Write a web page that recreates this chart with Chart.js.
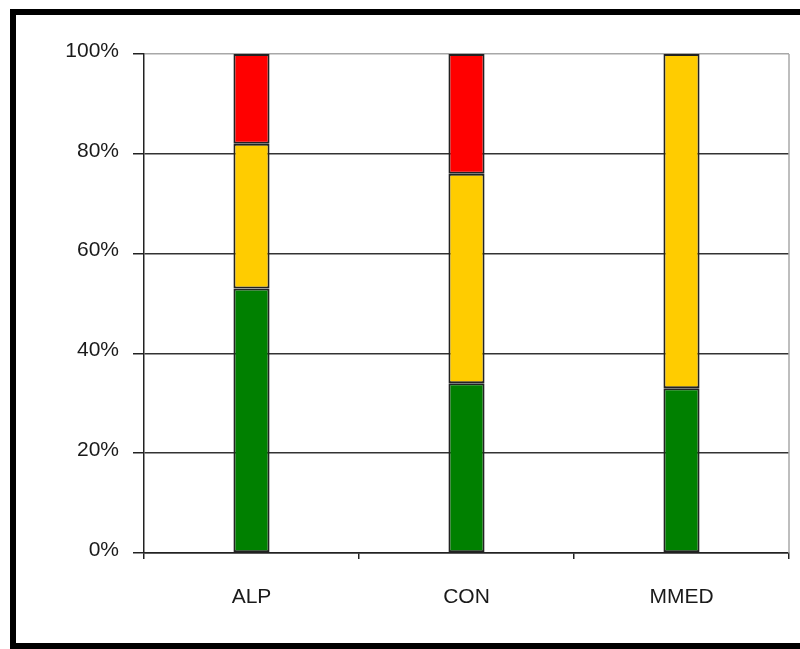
<!DOCTYPE html>
<html>
<head>
<meta charset="utf-8">
<title>Stacked 100% bars</title>
<script src="https://cdn.jsdelivr.net/npm/chart.js@4/dist/chart.umd.min.js"></script>
<style>
    html, body {
        margin: 0;
        padding: 0;
        background: #ffffff;
        overflow: hidden;
    }
    #frame {
        position: absolute;
        left: 10px;
        top: 9px;
        width: 900px;
        height: 640px;
        box-sizing: border-box;
        border: 6px solid #000;
    }
    #chart {
        position: absolute;
        left: 0;
        top: 0;
    }
</style>
</head>
<body>
<div id="frame"></div>
<canvas id="chart" width="800" height="649"></canvas>
<script>
// Chart data
const categories = ['ALP', 'CON', 'MMED'];
const greenValues = [53, 34, 33];
const yellowValues = [29, 42, 67];
const redValues = [18, 24, 0];
const yTicks = [0, 20, 40, 60, 80, 100];

const labelFont = { family: 'Arial, "Liberation Sans", sans-serif', size: 21 };

// Gray frame on the right side of the plot area
const plotFrame = {
    id: 'plotFrame',
    beforeDatasetsDraw(chart) {
        const { ctx, chartArea } = chart;
        ctx.save();
        ctx.strokeStyle = '#a8a8a8';
        ctx.lineWidth = 1.5;
        ctx.beginPath();
        ctx.moveTo(chartArea.right, chartArea.top);
        ctx.lineTo(chartArea.right, chartArea.bottom);
        ctx.stroke();
        ctx.restore();
    }
};

function makeDataset(label, values, color) {
    return {
        label: label,
        data: values,
        backgroundColor: color,
        borderColor: '#222',
        borderWidth: 2,
        borderSkipped: false,
        categoryPercentage: 1,
        barPercentage: 0.168
    };
}

new Chart(document.getElementById('chart'), {
    type: 'bar',
    data: {
        labels: categories,
        datasets: [
            makeDataset('Green', greenValues, '#008000'),
            makeDataset('Yellow', yellowValues, '#ffcc00'),
            makeDataset('Red', redValues, '#ff0000')
        ]
    },
    options: {
        responsive: false,
        animation: false,
        layout: {
            padding: { left: 0, top: 54, right: 11, bottom: 0 }
        },
        plugins: {
            legend: { display: false },
            tooltip: { enabled: false }
        },
        scales: {
            x: {
                stacked: true,
                afterFit(scale) { scale.height = 96; },
                border: { color: '#222', width: 1.5 },
                grid: {
                    offset: true,
                    drawOnChartArea: false,
                    drawTicks: true,
                    tickLength: 6,
                    tickColor: '#222',
                    lineWidth: 1.5
                },
                ticks: {
                    color: '#1a1a1a',
                    font: labelFont,
                    padding: 26,
                    maxRotation: 0
                }
            },
            y: {
                stacked: true,
                min: 0,
                max: 100,
                afterFit(scale) { scale.width = 144; },
                afterBuildTicks(scale) {
                    scale.ticks = yTicks.map(v => ({ value: v }));
                },
                border: { color: '#222', width: 1.5 },
                grid: {
                    color: ctx => (ctx.tick && ctx.tick.value === 100) ? '#a8a8a8' : '#333',
                    tickColor: '#222',
                    lineWidth: 1.5,
                    tickLength: 11
                },
                ticks: {
                    color: '#1a1a1a',
                    font: labelFont,
                    padding: 14,
                    labelOffset: -3,
                    callback: v => v + '%'
                }
            }
        }
    },
    plugins: [plotFrame]
});
</script>
</body>
</html>
